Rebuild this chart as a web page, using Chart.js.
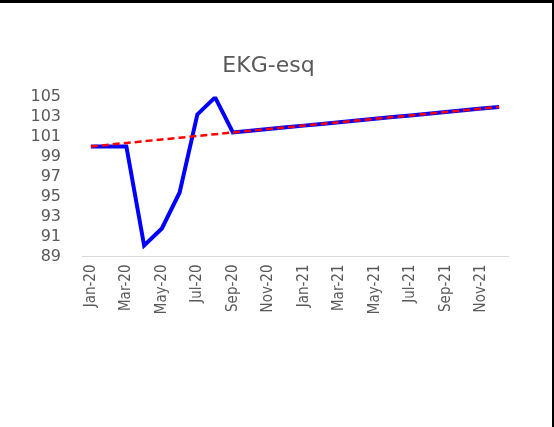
<!DOCTYPE html>
<html>
<head>
<meta charset="utf-8">
<script src="https://cdn.jsdelivr.net/npm/chart.js@4"></script>
<style>
  body { margin: 0; background: #fff; }
  #wrap { position: relative; width: 554px; height: 427px; }
  #frame {
    position: absolute; left: 0; top: 0; width: 554px; height: 427px;
    box-sizing: border-box; border-top: 3px solid #000; border-right: 2px solid #000;
    pointer-events: none;
  }
</style>
</head>
<body>
<div id="wrap">
  <canvas id="chart" width="554" height="427"></canvas>
  <div id="frame"></div>
</div>
<script>
const months = [
  "Jan-20", "Feb-20", "Mar-20", "Apr-20", "May-20", "Jun-20",
  "Jul-20", "Aug-20", "Sep-20", "Oct-20", "Nov-20", "Dec-20",
  "Jan-21", "Feb-21", "Mar-21", "Apr-21", "May-21", "Jun-21",
  "Jul-21", "Aug-21", "Sep-21", "Oct-21", "Nov-21", "Dec-21"
];

// blue solid line
const actual = [
  100.0, 100.0, 100.0, 90.1, 91.8, 95.4,
  103.2, 104.9, 101.4, 101.57, 101.74, 101.91,
  102.08, 102.25, 102.42, 102.59, 102.76, 102.93,
  103.1, 103.27, 103.44, 103.61, 103.78, 103.95
];

// red dashed line
const trend = [
  100.0, 100.17, 100.35, 100.52, 100.7, 100.87,
  101.05, 101.22, 101.4, 101.57, 101.74, 101.91,
  102.08, 102.25, 102.42, 102.59, 102.76, 102.93,
  103.1, 103.27, 103.44, 103.61, 103.78, 103.95
];

const yTicks = [89, 91, 93, 95, 97, 99, 101, 103, 105];

const grey = "#595959";

document.addEventListener("DOMContentLoaded", function () {
  const ctx = document.getElementById("chart").getContext("2d");

  new Chart(ctx, {
    type: "line",
    data: {
      labels: months,
      datasets: [
        {
          label: "trend",
          data: trend,
          borderColor: "#ff0000",
          borderWidth: 2.5,
          borderDash: [7, 4],
          pointRadius: 0,
          tension: 0,
          fill: false,
          order: 0,
        },
        {
          label: "EKG",
          data: actual,
          borderColor: "#0000ff",
          borderWidth: 4,
          pointRadius: 0,
          tension: 0,
          fill: false,
          order: 1,
        },
      ],
    },
    options: {
      responsive: false,
      animation: false,
      layout: {
        padding: { left: 29, right: 46, top: 0, bottom: 110.5 },
      },
      plugins: {
        legend: { display: false },
        tooltip: { enabled: false },
        title: {
          display: true,
          text: "EKG-esq",
          color: grey,
          font: { family: "'DejaVu Sans', sans-serif", size: 22, weight: "normal" },
          padding: { top: 53, bottom: 17 },
        },
      },
      scales: {
        x: {
          offset: true,
          grid: { display: false, drawTicks: false },
          border: { display: true, color: "#d9d9d9", width: 1 },
          afterFit: function (scale) {
            scale.height = 60;
          },
          ticks: {
            autoSkip: false,
            maxRotation: 90,
            minRotation: 90,
            padding: 8,
            color: grey,
            font: { family: "'Liberation Sans Narrow', 'DejaVu Sans Condensed', sans-serif", size: 15 },
            callback: function (value, index) {
              return index % 2 === 0 ? this.getLabelForValue(value) : "";
            },
          },
        },
        y: {
          min: 89,
          max: 105,
          grid: { display: false, drawTicks: false },
          border: { display: false },
          afterFit: function (scale) {
            scale.width = 53;
          },
          afterBuildTicks: function (scale) {
            scale.ticks = yTicks.map((v) => ({ value: v }));
          },
          ticks: {
            autoSkip: false,
            padding: 21,
            color: grey,
            font: { family: "'DejaVu Sans', sans-serif", size: 16 },
          },
        },
      },
    },
  });
});
</script>
</body>
</html>
